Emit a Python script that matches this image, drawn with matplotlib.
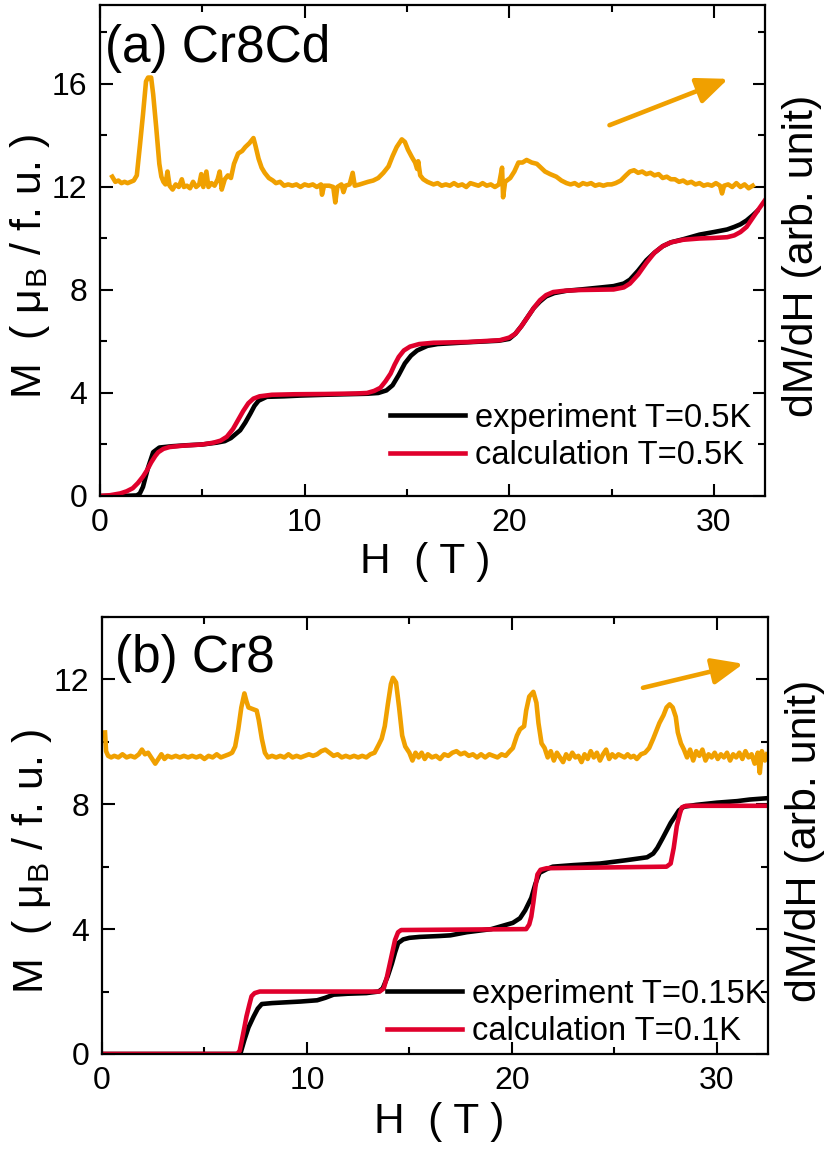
import matplotlib
matplotlib.use('Agg')
import matplotlib.pyplot as plt
from matplotlib.ticker import MultipleLocator

plt.rcParams['font.family'] = ['Liberation Sans', 'DejaVu Sans']
plt.rcParams['mathtext.fontset'] = 'custom'
plt.rcParams['mathtext.rm'] = 'Liberation Sans'
plt.rcParams['mathtext.it'] = 'Liberation Sans'

ORANGE = '#F0A000'
RED = '#E0002C'

# ---- panel (a) Cr8Cd : magnetization, T=0.5K ----
exp_a_h = [0, 1.0, 1.8, 1.95, 2.1, 2.35, 2.6, 2.9, 3.5, 4.25, 5.0, 5.7, 6.1, 6.4, 6.85, 7.1,
           7.35, 7.55, 7.75, 8.15, 9.0, 9.8, 11.0, 12.0, 13.05, 13.6, 14.0, 14.3, 14.6, 14.9,
           15.2, 15.5, 16.0, 16.5, 18.0, 19.5, 20.0, 20.3, 20.6, 20.9, 21.2, 21.5, 21.8, 22.2,
           22.8, 23.5, 24.5, 25.1, 25.6, 25.9, 26.3, 26.7, 27.1, 27.5, 27.9, 28.5, 29.3, 30.0,
           30.65, 31.0, 31.3, 31.6, 31.9, 32.1]
exp_a_m = [0, 0, 0.02, 0.1, 0.35, 1.1, 1.7, 1.88, 1.93, 1.97, 2.0, 2.07, 2.13, 2.25, 2.55, 2.85,
           3.2, 3.5, 3.7, 3.85, 3.87, 3.9, 3.93, 3.95, 3.97, 4.0, 4.1, 4.3, 4.7, 5.15,
           5.45, 5.65, 5.83, 5.9, 5.97, 6.03, 6.1, 6.3, 6.6, 6.95, 7.3, 7.55, 7.75, 7.88,
           7.97, 8.02, 8.1, 8.15, 8.25, 8.4, 8.75, 9.15, 9.45, 9.7, 9.85, 9.97, 10.15, 10.25,
           10.35, 10.45, 10.55, 10.7, 10.9, 11.05]

calc_a_h = [0, 0.5, 1.0, 1.3, 1.6, 1.85, 2.1, 2.3, 2.5, 2.7, 2.85, 3.1, 3.4, 4.0, 5.0, 5.55,
            5.9, 6.2, 6.5, 6.75, 7.0, 7.25, 7.5, 7.8, 8.4, 9.5, 11.0, 12.5, 13.05, 13.4, 13.7,
            13.95, 14.2, 14.4, 14.6, 14.85, 15.15, 15.6, 16.3, 18.0, 19.55, 20.0, 20.3, 20.6,
            20.9, 21.2, 21.5, 21.8, 22.15, 22.7, 23.5, 25.1, 25.6, 25.9, 26.3, 26.7, 27.1,
            27.5, 27.9, 28.5, 29.3, 30.0, 30.65, 31.0, 31.3, 31.6, 31.9, 32.2, 32.6]
calc_a_m = [0, 0.03, 0.1, 0.18, 0.3, 0.5, 0.75, 1.0, 1.3, 1.55, 1.7, 1.83, 1.9, 1.95, 2.0, 2.07,
            2.15, 2.3, 2.6, 2.95, 3.3, 3.6, 3.78, 3.87, 3.93, 3.95, 3.96, 3.98, 4.0, 4.08, 4.2,
            4.45, 4.75, 5.1, 5.4, 5.65, 5.8, 5.9, 5.95, 5.98, 6.05, 6.15, 6.3, 6.6,
            6.95, 7.3, 7.6, 7.8, 7.92, 7.97, 8.0, 8.02, 8.1, 8.25, 8.6, 9.05, 9.45,
            9.7, 9.85, 9.95, 10.0, 10.02, 10.05, 10.12, 10.25, 10.45, 10.8, 11.15, 11.6]

dmdh_a_h = [0.6, 0.75, 0.9, 1.05, 1.2, 1.35, 1.5, 1.65, 1.8, 1.95, 2.1, 2.25, 2.35, 2.5, 2.6,
            2.75, 2.9, 3.0, 3.1, 3.2, 3.3, 3.4, 3.55, 3.7, 3.85, 4.0, 4.1, 4.25, 4.4, 4.55,
            4.7, 4.85, 4.95, 5.05, 5.2, 5.3, 5.45, 5.6, 5.75, 5.85, 5.95, 6.1, 6.25, 6.4,
            6.55, 6.75, 6.95, 7.1, 7.3, 7.5, 7.6, 7.75, 7.9, 8.05, 8.25, 8.45, 8.6, 8.8, 9.0,
            9.2, 9.4, 9.6, 9.8, 10.0, 10.2, 10.4, 10.6, 10.8, 10.85, 10.95, 11.2, 11.4, 11.5,
            11.6, 11.8, 11.9, 12.0, 12.2, 12.35, 12.45, 12.7, 12.9, 13.1, 13.35, 13.6, 13.85,
            14.1, 14.3, 14.5, 14.75, 14.9, 15.05, 15.25, 15.4, 15.5, 15.55, 15.65, 15.8, 16.0,
            16.3, 16.5, 16.7, 16.9, 17.1, 17.3, 17.5, 17.7, 17.9, 18.1, 18.3, 18.5, 18.7,
            18.9, 19.1, 19.3, 19.5, 19.65, 19.7, 19.8, 20.05, 20.25, 20.45, 20.65, 20.85,
            21.1, 21.35, 21.55, 21.75, 22.0, 22.3, 22.55, 22.8, 23.0, 23.2, 23.4, 23.6, 23.8,
            24.0, 24.2, 24.4, 24.6, 24.8, 25.0, 25.2, 25.45, 25.7, 25.9, 26.1, 26.3, 26.5,
            26.7, 26.9, 27.1, 27.3, 27.5, 27.7, 27.9, 28.1, 28.3, 28.5, 28.7, 28.9, 29.1,
            29.3, 29.5, 29.7, 29.9, 30.1, 30.3, 30.4, 30.5, 30.7, 30.9, 31.1, 31.3, 31.5,
            31.7, 31.9]
dmdh_a_v = [12.4, 12.2, 12.25, 12.15, 12.2, 12.15, 12.2, 12.25, 12.45, 13.6, 14.8, 16.1, 16.25,
            16.25, 15.6, 14.3, 12.9, 12.4, 12.2, 12.1, 12.6, 12.05, 11.9, 12.1, 12.0, 12.3,
            12.0, 12.05, 11.95, 12.2, 12.0, 12.1, 12.5, 12.0, 12.6, 12.0, 12.15, 12.05, 12.3,
            12.6, 11.9, 12.3, 12.45, 12.35, 12.9, 13.3, 13.4, 13.55, 13.7, 13.9, 13.6, 13.1,
            12.75, 12.55, 12.35, 12.25, 12.15, 12.2, 12.05, 12.1, 12.05, 12.1, 12.0, 12.1,
            12.05, 12.1, 12.0, 12.1, 11.7, 12.05, 12.05, 12.0, 11.4, 12.0, 12.1, 11.8, 12.05,
            12.1, 12.55, 12.05, 12.1, 12.15, 12.2, 12.25, 12.35, 12.55, 12.8, 13.2, 13.55,
            13.85, 13.75, 13.45, 13.15, 12.95, 12.7, 13.0, 12.45, 12.3, 12.2, 12.1, 12.15,
            12.05, 12.1, 12.05, 12.15, 12.05, 12.1, 12.0, 12.15, 12.1, 12.05, 12.15, 12.05,
            12.1, 12.0, 12.1, 12.75, 11.6, 12.2, 12.35, 12.6, 12.95, 12.95, 13.05, 12.95,
            12.9, 12.75, 12.6, 12.5, 12.4, 12.25, 12.15, 12.1, 12.15, 12.05, 12.15, 12.1,
            12.15, 12.05, 12.1, 12.05, 12.1, 12.1, 12.15, 12.25, 12.45, 12.6, 12.65, 12.55,
            12.6, 12.5, 12.55, 12.45, 12.5, 12.35, 12.4, 12.3, 12.3, 12.2, 12.25, 12.15,
            12.2, 12.1, 12.15, 12.05, 12.1, 12.05, 12.15, 12.05, 11.75, 12.05, 12.1, 12.0,
            12.15, 12.0, 12.1, 11.95, 12.05]

# ---- panel (b) Cr8 ----
exp_b_h = [0, 6.75, 6.95, 7.15, 7.4, 7.6, 7.8, 8.3, 8.85, 9.7, 10.5, 10.9, 11.3, 12.0, 12.9,
           13.5, 13.7, 13.95, 14.15, 14.3, 14.45, 14.7, 15.0, 15.5, 16.5, 17.0, 17.8, 19.0,
           20.05, 20.4, 20.65, 20.95, 21.15, 21.35, 21.7, 22.0, 23.0, 24.3, 25.5, 26.6, 26.9,
           27.1, 27.35, 27.55, 27.75, 27.95, 28.15, 28.4, 29.0, 30.0, 31.0, 31.6, 32.6]
exp_b_m = [0, 0, 0.45, 0.85, 1.2, 1.45, 1.6, 1.63, 1.65, 1.68, 1.72, 1.8, 1.9, 1.93, 1.95,
           2.0, 2.1, 2.5, 2.9, 3.25, 3.55, 3.67, 3.72, 3.75, 3.78, 3.8, 3.9, 4.0,
           4.2, 4.35, 4.6, 5.0, 5.45, 5.8, 5.92, 6.0, 6.05, 6.1, 6.2, 6.3, 6.42,
           6.6, 6.9, 7.15, 7.4, 7.6, 7.8, 7.92, 7.98, 8.05, 8.1, 8.15, 8.2]

calc_b_h = [0, 6.6, 6.72, 6.8, 6.95, 7.05, 7.2, 7.3, 7.45, 7.7, 13.55, 13.75, 13.9, 14.05,
            14.2, 14.3, 14.45, 14.6, 20.7, 20.85, 20.95, 21.05, 21.15, 21.25, 21.4, 21.7,
            27.55, 27.75, 27.9, 28.05, 28.2, 28.3, 28.5, 32.6]
calc_b_m = [0, 0, 0.1, 0.35, 0.85, 1.2, 1.6, 1.85, 1.95, 2.0, 2.0, 2.1, 2.45, 2.9,
            3.35, 3.65, 3.9, 3.97, 4.0, 4.15, 4.4, 4.85, 5.35, 5.75, 5.9, 5.95,
            6.0, 6.1, 6.6, 7.3, 7.7, 7.9, 7.95, 7.95]

dmdh_b_h = [0.15, 0.2, 0.3, 0.45, 0.6, 0.8, 1.0, 1.2, 1.4, 1.6, 1.8, 1.95, 2.1, 2.25, 2.45,
            2.6, 2.75, 2.9, 3.05, 3.2, 3.4, 3.6, 3.8, 4.0, 4.2, 4.4, 4.6, 4.8, 5.0, 5.2, 5.4,
            5.6, 5.8, 6.0, 6.2, 6.35, 6.5, 6.65, 6.8, 6.95, 7.05, 7.15, 7.35, 7.55, 7.65,
            7.8, 7.95, 8.1, 8.3, 8.5, 8.7, 8.9, 9.1, 9.3, 9.5, 9.7, 9.9, 10.1, 10.3, 10.5,
            10.7, 10.9, 11.1, 11.3, 11.5, 11.7, 11.9, 12.1, 12.3, 12.5, 12.7, 12.9, 13.1,
            13.3, 13.5, 13.65, 13.8, 13.95, 14.1, 14.2, 14.35, 14.5, 14.65, 14.8, 15.0,
            15.15, 15.3, 15.45, 15.6, 15.75, 15.9, 16.1, 16.3, 16.5, 16.7, 16.9, 17.1, 17.3,
            17.5, 17.7, 17.9, 18.1, 18.3, 18.5, 18.7, 18.9, 19.1, 19.3, 19.5, 19.7, 19.9,
            20.05, 20.25, 20.4, 20.6, 20.7, 20.85, 21.05, 21.2, 21.3, 21.45, 21.6, 21.75,
            21.9, 22.05, 22.2, 22.35, 22.5, 22.65, 22.8, 22.95, 23.1, 23.25, 23.4, 23.55,
            23.7, 23.85, 24.0, 24.15, 24.3, 24.45, 24.6, 24.75, 24.9, 25.05, 25.2, 25.35,
            25.5, 25.65, 25.8, 25.95, 26.1, 26.3, 26.5, 26.7, 26.9, 27.05, 27.2, 27.4,
            27.55, 27.7, 27.85, 28.0, 28.1, 28.25, 28.4, 28.55, 28.7, 28.85, 29.0, 29.15,
            29.3, 29.45, 29.6, 29.75, 29.9, 30.05, 30.2, 30.35, 30.5, 30.65, 30.8, 30.95,
            31.1, 31.25, 31.4, 31.55, 31.7, 31.85, 32.0, 32.1, 32.2, 32.35, 32.45]
dmdh_b_v = [10.3, 9.7, 9.55, 9.5, 9.55, 9.5, 9.6, 9.5, 9.55, 9.5, 9.6, 9.75, 9.6, 9.65, 9.45,
            9.3, 9.45, 9.6, 9.45, 9.55, 9.5, 9.55, 9.5, 9.55, 9.5, 9.55, 9.5, 9.55, 9.45,
            9.55, 9.5, 9.6, 9.5, 9.55, 9.6, 9.65, 9.85, 10.4, 11.1, 11.55, 11.3, 11.1, 11.05,
            11.0, 10.7, 10.1, 9.65, 9.5, 9.55, 9.5, 9.55, 9.5, 9.6, 9.5, 9.55, 9.5, 9.55,
            9.6, 9.55, 9.6, 9.7, 9.75, 9.65, 9.55, 9.6, 9.5, 9.55, 9.5, 9.55, 9.5, 9.55,
            9.5, 9.6, 9.65, 9.9, 10.1, 10.5, 11.2, 11.85, 12.05, 11.9, 11.1, 10.2, 9.85,
            9.65, 9.4, 9.65, 9.5, 9.65, 9.45, 9.6, 9.5, 9.55, 9.45, 9.6, 9.55, 9.65, 9.7,
            9.6, 9.65, 9.55, 9.6, 9.5, 9.6, 9.5, 9.6, 9.55, 9.5, 9.6, 9.55, 9.7,
            9.8, 10.2, 10.4, 10.5, 11.0, 11.45, 11.6, 11.25, 10.6, 9.95, 9.8, 9.5,
            9.7, 9.4, 9.65, 9.5, 9.35, 9.6, 9.45, 9.65, 9.5, 9.55, 9.35, 9.6,
            9.45, 9.7, 9.5, 9.65, 9.4, 9.6, 9.75, 9.45, 9.6, 9.5, 9.6, 9.55,
            9.5, 9.6, 9.5, 9.55, 9.45, 9.6, 9.65, 9.8, 10.1, 10.35, 10.6, 10.85,
            11.1, 11.2, 11.1, 10.8, 10.3, 9.95, 9.75, 9.5, 9.75, 9.4, 9.7, 9.55,
            9.75, 9.4, 9.6, 9.5, 9.65, 9.45, 9.6, 9.5, 9.65, 9.4, 9.6, 9.5,
            9.65, 9.45, 9.7, 9.5, 9.6, 9.3, 9.65, 9.0, 9.7, 9.4, 9.6]

fig = plt.figure(figsize=(8.29, 11.51), dpi=100)
ax_a = fig.add_axes([0.1206, 0.5691, 0.8022, 0.4266])
ax_b = fig.add_axes([0.1230, 0.0843, 0.8034, 0.3797])


def style_axes(ax, ymax):
    ax.set_xlim(0, 32.5)
    ax.set_ylim(0, ymax)
    ax.xaxis.set_major_locator(MultipleLocator(10))
    ax.xaxis.set_minor_locator(MultipleLocator(5))
    ax.yaxis.set_major_locator(MultipleLocator(4))
    ax.yaxis.set_minor_locator(MultipleLocator(2))
    ax.tick_params(which='both', direction='in', top=True, right=True, width=1.5,
                   labelsize=23, pad=9)
    ax.tick_params(which='major', length=9)
    ax.tick_params(which='minor', length=5)
    for s in ax.spines.values():
        s.set_linewidth(1.6)


for ax, ymax in ((ax_a, 19.07), (ax_b, 14.0)):
    style_axes(ax, ymax)

# panel (a)
ax_a.plot(dmdh_a_h, dmdh_a_v, color=ORANGE, lw=3.3)
ax_a.plot(exp_a_h, exp_a_m, color='black', lw=3.3, label='experiment T=0.5K')
ax_a.plot(calc_a_h, calc_a_m, color=RED, lw=3.3, label='calculation T=0.5K')
ax_a.annotate('', xy=(30.7, 16.2), xytext=(24.9, 14.4),
              arrowprops=dict(arrowstyle='-|>,head_length=0.95,head_width=0.4',
                              mutation_scale=20, color=ORANGE, lw=3.3,
                              shrinkA=0, shrinkB=0))
ax_a.text(0.0075, 0.884, '(a) Cr8Cd', transform=ax_a.transAxes, fontsize=37,
          va='baseline', ha='left')
ax_a.legend(loc='center left', bbox_to_anchor=(0.436, 0.12), frameon=False,
            fontsize=23.5, handlelength=2.3, handletextpad=0.3, labelspacing=0.2,
            borderpad=0, borderaxespad=0)

# panel (b)
ax_b.plot(dmdh_b_h, dmdh_b_v, color=ORANGE, lw=3.3)
ax_b.plot(exp_b_h, exp_b_m, color='black', lw=3.3, label='experiment T=0.15K')
ax_b.plot(calc_b_h, calc_b_m, color=RED, lw=3.3, label='calculation T=0.1K')
ax_b.annotate('', xy=(31.3, 12.5), xytext=(26.4, 11.73),
              arrowprops=dict(arrowstyle='-|>,head_length=0.95,head_width=0.4',
                              mutation_scale=20, color=ORANGE, lw=3.3,
                              shrinkA=0, shrinkB=0))
ax_b.text(0.02, 0.874, '(b) Cr8', transform=ax_b.transAxes, fontsize=37,
          va='baseline', ha='left')
ax_b.legend(loc='center left', bbox_to_anchor=(0.428, 0.094), frameon=False,
            fontsize=23.5, handlelength=2.3, handletextpad=0.3, labelspacing=0.2,
            borderpad=0, borderaxespad=0)

ylab = r'M  ( $\mathregular{\mu_B}$ / f. u. )'
for ax, yl, yr, xl, xc in ((ax_a, 0.468, 0.489, -0.134, 0.489),
                           (ax_b, 0.44, 0.487, -0.156, 0.507)):
    ax.text(-0.105, yl, ylab, transform=ax.transAxes, rotation=90, fontsize=31,
            ha='center', va='center')
    ax.text(1.056, yr, 'dM/dH (arb. unit)', transform=ax.transAxes, rotation=90,
            fontsize=31, ha='center', va='center')
    ax.text(xc, xl, 'H  ( T )', transform=ax.transAxes, fontsize=30.5,
            ha='center', va='center')

fig.savefig('out.png', dpi=100)
